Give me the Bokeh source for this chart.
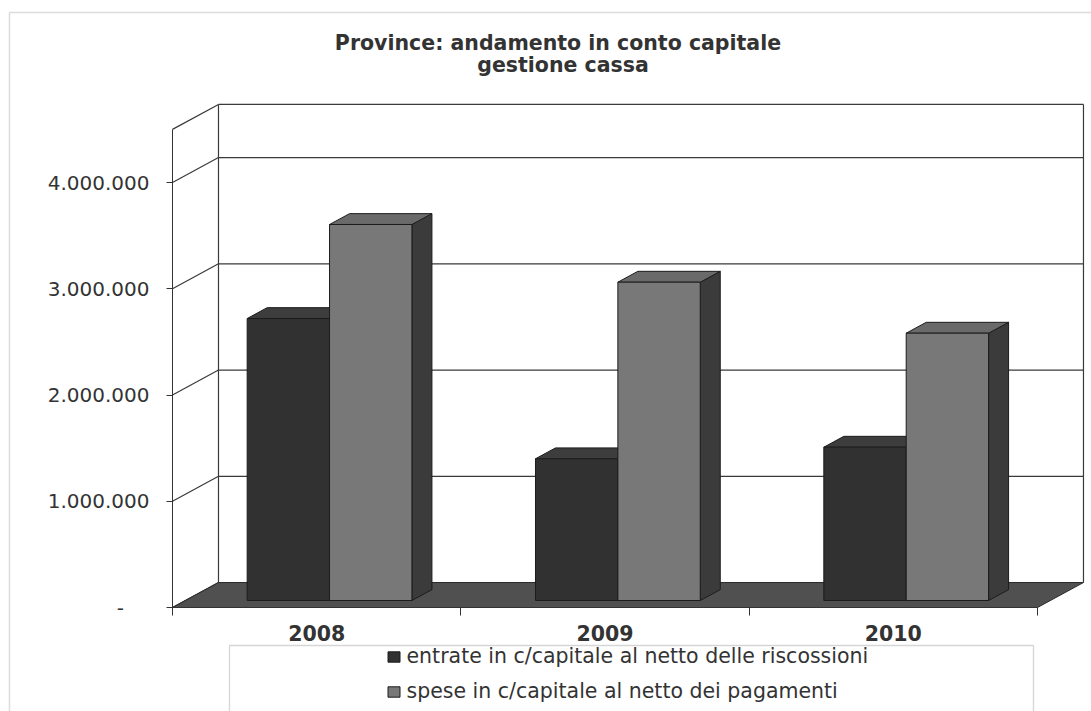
from bokeh.plotting import figure
from bokeh.models import (Range1d, FixedTicker, Legend, LegendItem, Label,
                          BoxAnnotation)
from bokeh.embed import file_html
from bokeh.resources import INLINE

# ---------------- data ----------------
years = ["2008", "2009", "2010"]
entrate = [2654000, 1334000, 1443000]
spese = [3539000, 2996000, 2516000]
series_names = ["entrate in c/capitale al netto delle riscossioni",
                "spese in c/capitale al netto dei pagamenti"]
y_ticks = [0, 1000000, 2000000, 3000000, 4000000]
y_tick_labels = ["-\u00a0\u00a0\u00a0\u00a0", "1.000.000", "2.000.000", "3.000.000", "4.000.000"]
title_lines = ["Province: andamento in conto capitale", "gestione cassa"]

# ---------------- 3D projection / style params ----------------
W, H = 1091, 711
Y_MAX = 4500000
DX = 0.1595        # wall depth along x (category units)
DY = 235000        # wall depth along y (value units)
F1, F2 = 0.28, 0.715   # bar depth slice (fraction of wall depth)
BAR_W = 1 / 3.5        # gap width 150%
n = len(years)
PX_X = 288.33          # pixels per category
PX_Y = 106.25 / 1e6    # pixels per unit value
X0_PX, Y0_PX = 172, 607  # canvas position of the front-left-bottom corner

FONT = "DejaVu Sans"
TXT = "#333333"
front_cols = ["#313131", "#787878"]
top_cols = ["#3d3d3d", "#6a6a6a"]
side_cols = ["#262626", "#3b3b3b"]
EDGE = "#1c1c1c"

p = figure(width=W, height=H, output_backend="svg", toolbar_location=None,
           x_range=Range1d(-X0_PX / PX_X, (W - X0_PX) / PX_X),
           y_range=Range1d(-(H - Y0_PX) / PX_Y, Y0_PX / PX_Y),
           min_border_left=0, min_border_right=0, min_border_top=0,
           min_border_bottom=0)
p.title.visible = False
p.outline_line_color = None
p.background_fill_color = "white"
p.border_fill_color = "white"
p.xgrid.visible = False
p.ygrid.visible = False

# ---------------- walls & gridlines ----------------
wall_levels = y_ticks + [Y_MAX]
gx0, gy0, gx1, gy1 = [], [], [], []
for v in wall_levels:
    if v > 0:
        gx0.append(DX); gy0.append(v + DY); gx1.append(n + DX); gy1.append(v + DY)
    gx0.append(0); gy0.append(v); gx1.append(DX); gy1.append(v + DY)
for xb in (DX, n + DX):
    gx0.append(xb); gy0.append(DY); gx1.append(xb); gy1.append(Y_MAX + DY)
p.segment(x0=gx0, y0=gy0, x1=gx1, y1=gy1, line_color="#3a3a3a", line_width=1.2)

# floor
p.patch(x=[0, n, n + DX, DX], y=[0, 0, DY, DY], fill_color="#505050",
        line_color="#2a2a2a", line_width=1)

# ---------------- bars ----------------
front_renderers = []
for s, vals in enumerate([entrate, spese]):
    fl, fr, fb, ft = [], [], [], []
    txs, tys, sxs, sys_ = [], [], [], []
    for i, v in enumerate(vals):
        x0 = i + 0.5 - BAR_W + s * BAR_W
        fx0, fx1 = x0 + F1 * DX, x0 + BAR_W + F1 * DX
        bx0, bx1 = x0 + F2 * DX, x0 + BAR_W + F2 * DX
        fy0, fyt = F1 * DY, v + F1 * DY
        by0, byt = F2 * DY, v + F2 * DY
        fl.append(fx0); fr.append(fx1); fb.append(fy0); ft.append(fyt)
        txs.append([fx0, fx1, bx1, bx0]); tys.append([fyt, fyt, byt, byt])
        sxs.append([fx1, bx1, bx1, fx1]); sys_.append([fy0, by0, byt, fyt])
    p.patches(xs=sxs, ys=sys_, fill_color=side_cols[s], line_color=EDGE, line_width=1)
    p.patches(xs=txs, ys=tys, fill_color=top_cols[s], line_color=EDGE, line_width=1)
    r = p.quad(left=fl, right=fr, bottom=fb, top=ft, fill_color=front_cols[s],
               line_color=EDGE, line_width=1)
    front_renderers.append(r)

# ---------------- axes ----------------
yax = p.yaxis[0]
yax.fixed_location = 0
yax.ticker = FixedTicker(ticks=y_ticks, minor_ticks=[])
yax.bounds = (0, Y_MAX)
yax.major_label_overrides = {t: l for t, l in zip(y_ticks, y_tick_labels)}
yax.major_tick_out = 6
yax.major_tick_in = 0
yax.minor_tick_out = 0
yax.major_label_standoff = 17
yax.major_label_text_font = FONT
yax.major_label_text_font_size = "20px"
yax.major_label_text_color = TXT
yax.axis_line_color = "#333333"
yax.major_tick_line_color = "#333333"

cat_pos = [i + 0.5 for i in range(n)]
xax = p.xaxis[0]
xax.fixed_location = 0
xax.ticker = FixedTicker(ticks=cat_pos, minor_ticks=list(range(n + 1)))
xax.bounds = (0, n)
xax.major_label_overrides = {c: y for c, y in zip(cat_pos, years)}
xax.major_tick_out = 0
xax.major_tick_in = 0
xax.minor_tick_out = 8
xax.minor_tick_in = 0
xax.minor_tick_line_color = "#333333"
xax.major_label_standoff = 9
xax.major_label_text_font = FONT
xax.major_label_text_font_style = "bold"
xax.major_label_text_font_size = "20.5px"
xax.major_label_text_color = TXT
xax.axis_line_color = "#333333"

# ---------------- title ----------------
p.add_layout(Label(x=557.5, y=H - 42, x_units="screen", y_units="screen",
                   text=title_lines[0], text_align="center", text_baseline="middle",
                   text_font=FONT, text_font_style="bold", text_font_size="20.5px",
                   text_color=TXT))
p.add_layout(Label(x=562.5, y=H - 64, x_units="screen", y_units="screen",
                   text=title_lines[1], text_align="center", text_baseline="middle",
                   text_font=FONT, text_font_style="bold", text_font_size="20.5px",
                   text_color=TXT))

# ---------------- frames ----------------
p.add_layout(BoxAnnotation(left=9, right=W + 10, top=H - 12, bottom=-10,
                           left_units="screen", right_units="screen",
                           top_units="screen", bottom_units="screen",
                           fill_alpha=0, line_color="#8a8a8a", line_width=1.5))
p.add_layout(BoxAnnotation(left=229, right=1033, top=H - 645, bottom=-10,
                           left_units="screen", right_units="screen",
                           top_units="screen", bottom_units="screen",
                           fill_alpha=0, line_color="#777777", line_width=1.3))

# ---------------- legend ----------------
legend = Legend(items=[LegendItem(label=series_names[k], renderers=[front_renderers[k]])
                       for k in range(2)],
                location=(385.5, H - 703), orientation="vertical", padding=0, spacing=11,
                glyph_width=15, glyph_height=13, label_height=20, label_standoff=6,
                label_text_font=FONT, label_text_font_size="20.5px",
                label_text_color=TXT, border_line_alpha=0,
                background_fill_alpha=0, margin=0)
p.add_layout(legend, "center")

open("out.html", "w").write(file_html(p, INLINE))
